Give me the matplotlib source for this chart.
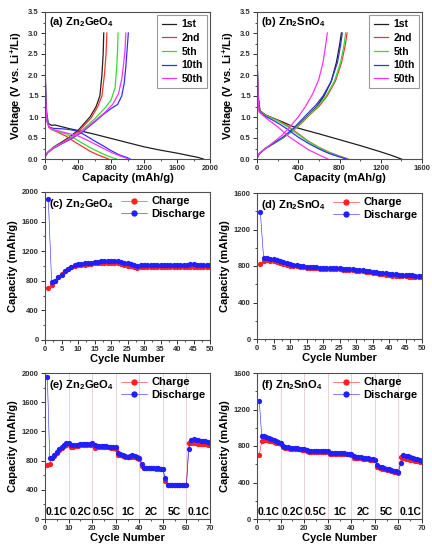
import matplotlib
matplotlib.use('Agg')
import matplotlib.pyplot as plt
from matplotlib.ticker import MultipleLocator

plt.rcParams['font.family'] = ['Liberation Sans', 'DejaVu Sans']
plt.rcParams['font.weight'] = 'bold'
plt.rcParams['mathtext.fontset'] = 'custom'
plt.rcParams['mathtext.rm'] = 'Liberation Sans:bold'
plt.rcParams['mathtext.it'] = 'Liberation Sans:bold'
plt.rcParams['mathtext.bf'] = 'Liberation Sans:bold'
plt.rcParams['mathtext.default'] = 'rm'

# ---- data ----
curve_labels = ['1st', '2nd', '5th', '10th', '50th']
curve_colors = ['#202020', '#ff3030', '#30e030', '#3030ff', '#ff30ff']

# (a) Zn2GeO4 discharge / charge profiles: (capacity list, voltage list)
ge_discharge = {
    '1st': ([0, 3, 8, 20, 40, 80, 120, 200, 300, 450, 600, 800, 1000, 1200, 1400, 1600, 1750, 1850, 1920],
            [3.0, 2.2, 1.6, 1.1, 0.85, 0.8, 0.81, 0.77, 0.72, 0.66, 0.59, 0.49, 0.39, 0.29, 0.21, 0.14, 0.08, 0.04, 0.0]),
    '2nd': ([0, 3, 10, 25, 50, 80, 150, 250, 350, 450, 550, 650, 720, 770],
            [3.0, 2.0, 1.3, 0.9, 0.75, 0.7, 0.64, 0.55, 0.42, 0.3, 0.18, 0.09, 0.04, 0.0]),
    '5th': ([0, 3, 10, 25, 50, 80, 150, 250, 350, 450, 550, 650, 750, 820, 870],
            [3.0, 2.0, 1.3, 0.9, 0.75, 0.7, 0.66, 0.6, 0.5, 0.38, 0.27, 0.17, 0.08, 0.03, 0.0]),
    '10th': ([0, 3, 10, 25, 50, 100, 200, 300, 400, 500, 600, 700, 800, 900, 1000, 1030],
             [3.0, 2.0, 1.3, 0.9, 0.76, 0.73, 0.72, 0.7, 0.66, 0.55, 0.43, 0.32, 0.2, 0.1, 0.03, 0.0]),
    '50th': ([0, 3, 10, 25, 50, 100, 200, 300, 400, 500, 600, 700, 800, 900, 970, 1010],
             [3.0, 2.0, 1.3, 0.9, 0.75, 0.7, 0.65, 0.6, 0.55, 0.46, 0.36, 0.26, 0.16, 0.08, 0.03, 0.0]),
}
ge_charge = {
    '1st': ([0, 30, 100, 200, 280, 400, 545, 620, 665, 690, 705, 712],
            [0.05, 0.15, 0.28, 0.4, 0.5, 0.68, 1.0, 1.25, 1.5, 2.0, 2.5, 3.0]),
    '2nd': ([0, 30, 100, 200, 300, 420, 560, 640, 690, 720, 740, 750],
            [0.05, 0.15, 0.27, 0.38, 0.5, 0.68, 0.98, 1.25, 1.5, 2.0, 2.5, 3.0]),
    '5th': ([0, 30, 100, 200, 300, 430, 600, 720, 800, 850, 870, 880, 885],
            [0.05, 0.15, 0.27, 0.37, 0.48, 0.65, 0.95, 1.2, 1.4, 1.7, 2.2, 2.6, 3.0]),
    '10th': ([0, 30, 100, 200, 300, 450, 600, 700, 800, 880, 930, 960, 980, 995, 1010],
             [0.05, 0.15, 0.25, 0.36, 0.46, 0.64, 0.88, 1.05, 1.2, 1.3, 1.5, 1.8, 2.2, 2.6, 3.0]),
    '50th': ([0, 30, 100, 200, 300, 450, 600, 720, 820, 890, 930, 955, 970, 980],
             [0.05, 0.15, 0.26, 0.37, 0.48, 0.66, 0.9, 1.1, 1.3, 1.55, 1.9, 2.3, 2.6, 3.0]),
}

# (b) Zn2SnO4 discharge / charge profiles
sn_discharge = {
    '1st': ([0, 3, 10, 30, 80, 150, 250, 350, 450, 600, 800, 1000, 1200, 1300, 1400],
            [3.0, 2.2, 1.5, 1.15, 1.05, 0.98, 0.88, 0.77, 0.7, 0.6, 0.46, 0.32, 0.17, 0.09, 0.0]),
    '2nd': ([0, 3, 10, 25, 80, 150, 220, 300, 400, 500, 600, 700, 800, 885],
            [3.0, 2.2, 1.5, 1.15, 1.05, 0.98, 0.9, 0.78, 0.6, 0.42, 0.28, 0.16, 0.07, 0.0]),
    '5th': ([0, 3, 10, 25, 80, 150, 220, 300, 400, 500, 600, 700, 800, 880],
            [3.0, 2.2, 1.5, 1.14, 1.04, 0.97, 0.88, 0.76, 0.58, 0.41, 0.27, 0.15, 0.06, 0.0]),
    '10th': ([0, 3, 10, 25, 80, 150, 220, 300, 400, 500, 600, 700, 800, 866],
             [3.0, 2.2, 1.5, 1.12, 1.02, 0.93, 0.83, 0.7, 0.52, 0.37, 0.24, 0.13, 0.05, 0.0]),
    '50th': ([0, 3, 10, 20, 100, 200, 300, 400, 500, 600, 688],
             [3.0, 2.2, 1.5, 1.12, 0.95, 0.77, 0.55, 0.38, 0.22, 0.1, 0.0]),
}
sn_charge = {
    '1st': ([0, 20, 80, 150, 250, 350, 420, 500, 580, 650, 720, 770, 800, 818],
            [0.02, 0.12, 0.25, 0.35, 0.5, 0.68, 0.85, 1.05, 1.25, 1.5, 1.85, 2.3, 2.7, 3.0]),
    '2nd': ([0, 20, 80, 150, 250, 350, 430, 510, 600, 680, 760, 820, 855, 873],
            [0.02, 0.12, 0.25, 0.35, 0.5, 0.68, 0.85, 1.05, 1.25, 1.5, 1.85, 2.3, 2.7, 3.0]),
    '5th': ([0, 20, 80, 150, 250, 350, 430, 505, 590, 670, 750, 810, 843, 860],
            [0.02, 0.12, 0.25, 0.35, 0.5, 0.68, 0.86, 1.05, 1.25, 1.5, 1.85, 2.3, 2.7, 3.0]),
    '10th': ([0, 20, 80, 150, 250, 350, 420, 490, 570, 640, 720, 780, 810, 827],
             [0.02, 0.12, 0.25, 0.36, 0.52, 0.72, 0.9, 1.08, 1.28, 1.5, 1.85, 2.3, 2.7, 3.0]),
    '50th': ([0, 20, 80, 150, 250, 330, 400, 470, 540, 600, 640, 665, 682],
             [0.02, 0.12, 0.25, 0.38, 0.58, 0.8, 1.0, 1.25, 1.55, 1.9, 2.3, 2.7, 3.0]),
}

# (c) Zn2GeO4 cycling, cycles 1..50
ge_cyc_charge = [700, 750, 800, 850, 890, 930, 960, 985, 1000, 1010,
                 1015, 1020, 1030, 1030, 1035, 1040, 1045, 1045, 1045, 1045,
                 1045, 1040, 1030, 1015, 1005, 995, 985, 975, 990, 990,
                 990, 985, 990, 990, 985, 990, 990, 985, 990, 990,
                 985, 990, 990, 985, 990, 990, 985, 990, 985, 985]
ge_cyc_discharge = [1910, 790, 800, 850, 880, 930, 960, 990, 1010, 1025,
                    1030, 1035, 1045, 1045, 1050, 1055, 1065, 1065, 1065, 1070,
                    1070, 1068, 1060, 1045, 1035, 1025, 1015, 995, 1020, 1020,
                    1020, 1015, 1020, 1020, 1015, 1020, 1020, 1015, 1020, 1020,
                    1020, 1020, 1020, 1025, 1025, 1020, 1020, 1020, 1020, 1015]

# (d) Zn2SnO4 cycling, cycles 1..50
sn_cyc_charge = [825, 860, 865, 860, 855, 845, 835, 825, 815, 805,
                 800, 795, 790, 785, 780, 778, 775, 773, 770, 770,
                 768, 767, 765, 764, 762, 760, 758, 755, 752, 748,
                 745, 740, 735, 730, 725, 720, 715, 710, 705, 700,
                 695, 692, 690, 688, 686, 684, 682, 680, 678, 675]
sn_cyc_discharge = [1395, 890, 885, 880, 872, 862, 852, 842, 832, 822,
                    815, 808, 802, 796, 792, 789, 786, 784, 782, 780,
                    779, 778, 776, 775, 773, 771, 769, 766, 763, 760,
                    756, 752, 748, 743, 738, 733, 728, 723, 718, 714,
                    710, 707, 705, 703, 701, 699, 697, 695, 693, 690]

# (e) Zn2GeO4 rate test, cycles 1..70
ge_rate_charge = [735, 760, 830, 860, 900, 940, 970, 995, 1015, 1030,
                  980, 990, 1000, 1005, 1010, 1010, 1010, 1010, 1015, 1015,
                  975, 985, 985, 985, 985, 980, 980, 975, 970, 965,
                  870, 870, 860, 850, 845, 850, 855, 850, 835, 820,
                  730, 700, 695, 695, 695, 695, 690, 690, 685, 680,
                  520, 465, 462, 462, 462, 462, 462, 462, 462, 462,
                  1040, 1045, 1040, 1035, 1030, 1030, 1025, 1030, 1015, 1010]
ge_rate_discharge = [1945, 830, 840, 870, 920, 960, 990, 1015, 1035, 1040,
                     1020, 1010, 1015, 1020, 1025, 1025, 1025, 1025, 1030, 1035,
                     1015, 1000, 1000, 1000, 995, 995, 990, 990, 985, 980,
                     905, 890, 875, 860, 855, 865, 870, 865, 850, 830,
                     760, 705, 700, 700, 700, 700, 700, 695, 690, 685,
                     560, 468, 465, 465, 465, 465, 465, 465, 465, 468,
                     960, 1085, 1090, 1085, 1080, 1070, 1065, 1075, 1050, 1040]

# (f) Zn2SnO4 rate test, cycles 1..70
sn_rate_charge = [705, 850, 870, 865, 860, 852, 845, 838, 830, 820,
                  790, 780, 775, 772, 770, 768, 765, 762, 760, 758,
                  740, 738, 738, 737, 737, 736, 736, 735, 735, 734,
                  710, 715, 715, 714, 714, 713, 712, 711, 710, 705,
                  670, 672, 668, 665, 662, 658, 655, 652, 648, 645,
                  570, 560, 553, 546, 540, 533, 526, 520, 514, 508,
                  680, 668, 662, 656, 650, 644, 638, 632, 626, 620]
sn_rate_discharge = [1290, 905, 905, 895, 888, 878, 868, 858, 848, 838,
                     805, 790, 785, 782, 780, 778, 775, 772, 770, 768,
                     752, 745, 744, 743, 742, 742, 741, 741, 740, 740,
                     725, 722, 721, 720, 720, 719, 718, 717, 715, 712,
                     690, 683, 678, 674, 670, 667, 664, 660, 657, 652,
                     595, 575, 566, 558, 550, 543, 536, 530, 524, 518,
                     610, 700, 692, 685, 678, 670, 662, 655, 648, 640]

rate_labels = ['0.1C', '0.2C', '0.5C', '1C', '2C', '5C', '0.1C']
rate_bounds = [10, 20, 30, 40, 50, 60]

W, H = 432, 548
fig = plt.figure(figsize=(W / 100, H / 100), dpi=100)


def add_ax(left, right, top, bottom):
    return fig.add_axes([left / W, (H - bottom) / H, (right - left) / W, (bottom - top) / H])


def style(ax):
    for sp in ax.spines.values():
        sp.set_color('#505050')
        sp.set_linewidth(0.8)
    ax.tick_params(which='major', direction='out', length=3, width=0.7,
                   labelsize=5.5, pad=1.5, colors='#303030')
    ax.tick_params(which='minor', direction='out', length=1.5, width=0.6, colors='#303030')
    for lab in ax.get_xticklabels() + ax.get_yticklabels():
        lab.set_fontweight('bold')


def voltage_panel(ax, dis, chg, xmax, tag):
    for lab, col in zip(curve_labels, curve_colors):
        ax.plot(dis[lab][0], dis[lab][1], color=col, lw=0.9)
        ax.plot(chg[lab][0], chg[lab][1], color=col, lw=0.9, label=lab)
    ax.set_xlim(0, xmax)
    ax.set_ylim(0, 3.5)
    ax.xaxis.set_major_locator(MultipleLocator(400))
    ax.xaxis.set_minor_locator(MultipleLocator(200))
    ax.yaxis.set_major_locator(MultipleLocator(0.5))
    ax.yaxis.set_minor_locator(MultipleLocator(0.25))
    ax.set_xlabel('Capacity (mAh/g)', fontsize=8, fontweight='bold', labelpad=0.5)
    ax.set_ylabel(r'Voltage (V vs. Li$^{+}$/Li)', fontsize=8, fontweight='bold', labelpad=3)
    ax.text(0.025, 0.93, tag, transform=ax.transAxes, fontsize=8, fontweight='bold', va='center')
    leg = ax.legend(loc='upper right', fontsize=7.5, handlelength=1.4, handletextpad=0.5,
                    borderaxespad=0.3, labelspacing=0.35, frameon=True, fancybox=False,
                    borderpad=0.4)
    leg.get_frame().set_edgecolor('#808080')
    leg.get_frame().set_linewidth(0.8)
    for t in leg.get_texts():
        t.set_fontweight('bold')
    style(ax)


def cycle_panel(ax, chg, dis, xmax, ymax, tag, xstep):
    cyc_c = list(range(1, len(chg) + 1))
    cyc_d = list(range(1, len(dis) + 1))
    ax.plot(cyc_c, chg, color='#ff2020', lw=0.4, marker='o', ms=3.8, mec='none',
            label='Charge')
    ax.plot(cyc_d, dis, color='#2020ff', lw=0.4, marker='o', ms=3.8, mec='none',
            label='Discharge')
    ax.set_xlim(0, xmax)
    ax.set_ylim(0, ymax)
    ax.xaxis.set_major_locator(MultipleLocator(xstep))
    ax.xaxis.set_minor_locator(MultipleLocator(xstep / 2))
    ax.yaxis.set_major_locator(MultipleLocator(400))
    ax.yaxis.set_minor_locator(MultipleLocator(200))
    ax.set_xlabel('Cycle Number', fontsize=8, fontweight='bold', labelpad=0.5)
    ax.set_ylabel('Capacity (mAh/g)', fontsize=8, fontweight='bold', labelpad=3)
    ax.text(0.025, 0.92, tag, transform=ax.transAxes, fontsize=8, fontweight='bold', va='center')
    leg = ax.legend(loc='upper right', fontsize=8, handlelength=2.3, handletextpad=0.4,
                    borderaxespad=0.1, labelspacing=0.2, frameon=False, borderpad=0.3,
                    markerscale=1.2)
    for t in leg.get_texts():
        t.set_fontweight('bold')
    style(ax)


ax_a = add_ax(45, 210, 12, 159)
voltage_panel(ax_a, ge_discharge, ge_charge, 2000, r'(a) Zn$_2$GeO$_4$')
ax_b = add_ax(257, 422, 12, 159)
voltage_panel(ax_b, sn_discharge, sn_charge, 1600, r'(b) Zn$_2$SnO$_4$')

ax_c = add_ax(45, 210, 192, 340)
cycle_panel(ax_c, ge_cyc_charge, ge_cyc_discharge, 50, 2000, r'(c) Zn$_2$GeO$_4$', 5)
ax_d = add_ax(257, 422, 193, 339)
cycle_panel(ax_d, sn_cyc_charge, sn_cyc_discharge, 50, 1600, r'(d) Zn$_2$SnO$_4$', 5)

ax_e = add_ax(45, 210, 373, 519)
cycle_panel(ax_e, ge_rate_charge, ge_rate_discharge, 70, 2000, r'(e) Zn$_2$GeO$_4$', 10)
ax_f = add_ax(257, 422, 373, 519)
cycle_panel(ax_f, sn_rate_charge, sn_rate_discharge, 70, 1600, r'(f) Zn$_2$SnO$_4$', 10)

for ax, ymax in [(ax_e, 2000), (ax_f, 1600)]:
    for xb in rate_bounds:
        ax.axvline(xb, color='#e8c8d8', lw=0.6, zorder=0)
    for i, lab in enumerate(rate_labels):
        ax.text(5 + 10 * i, ymax * 0.012, lab, ha='center', va='bottom', fontsize=7.5,
                fontweight='bold')

fig.savefig('out.png', dpi=100)
